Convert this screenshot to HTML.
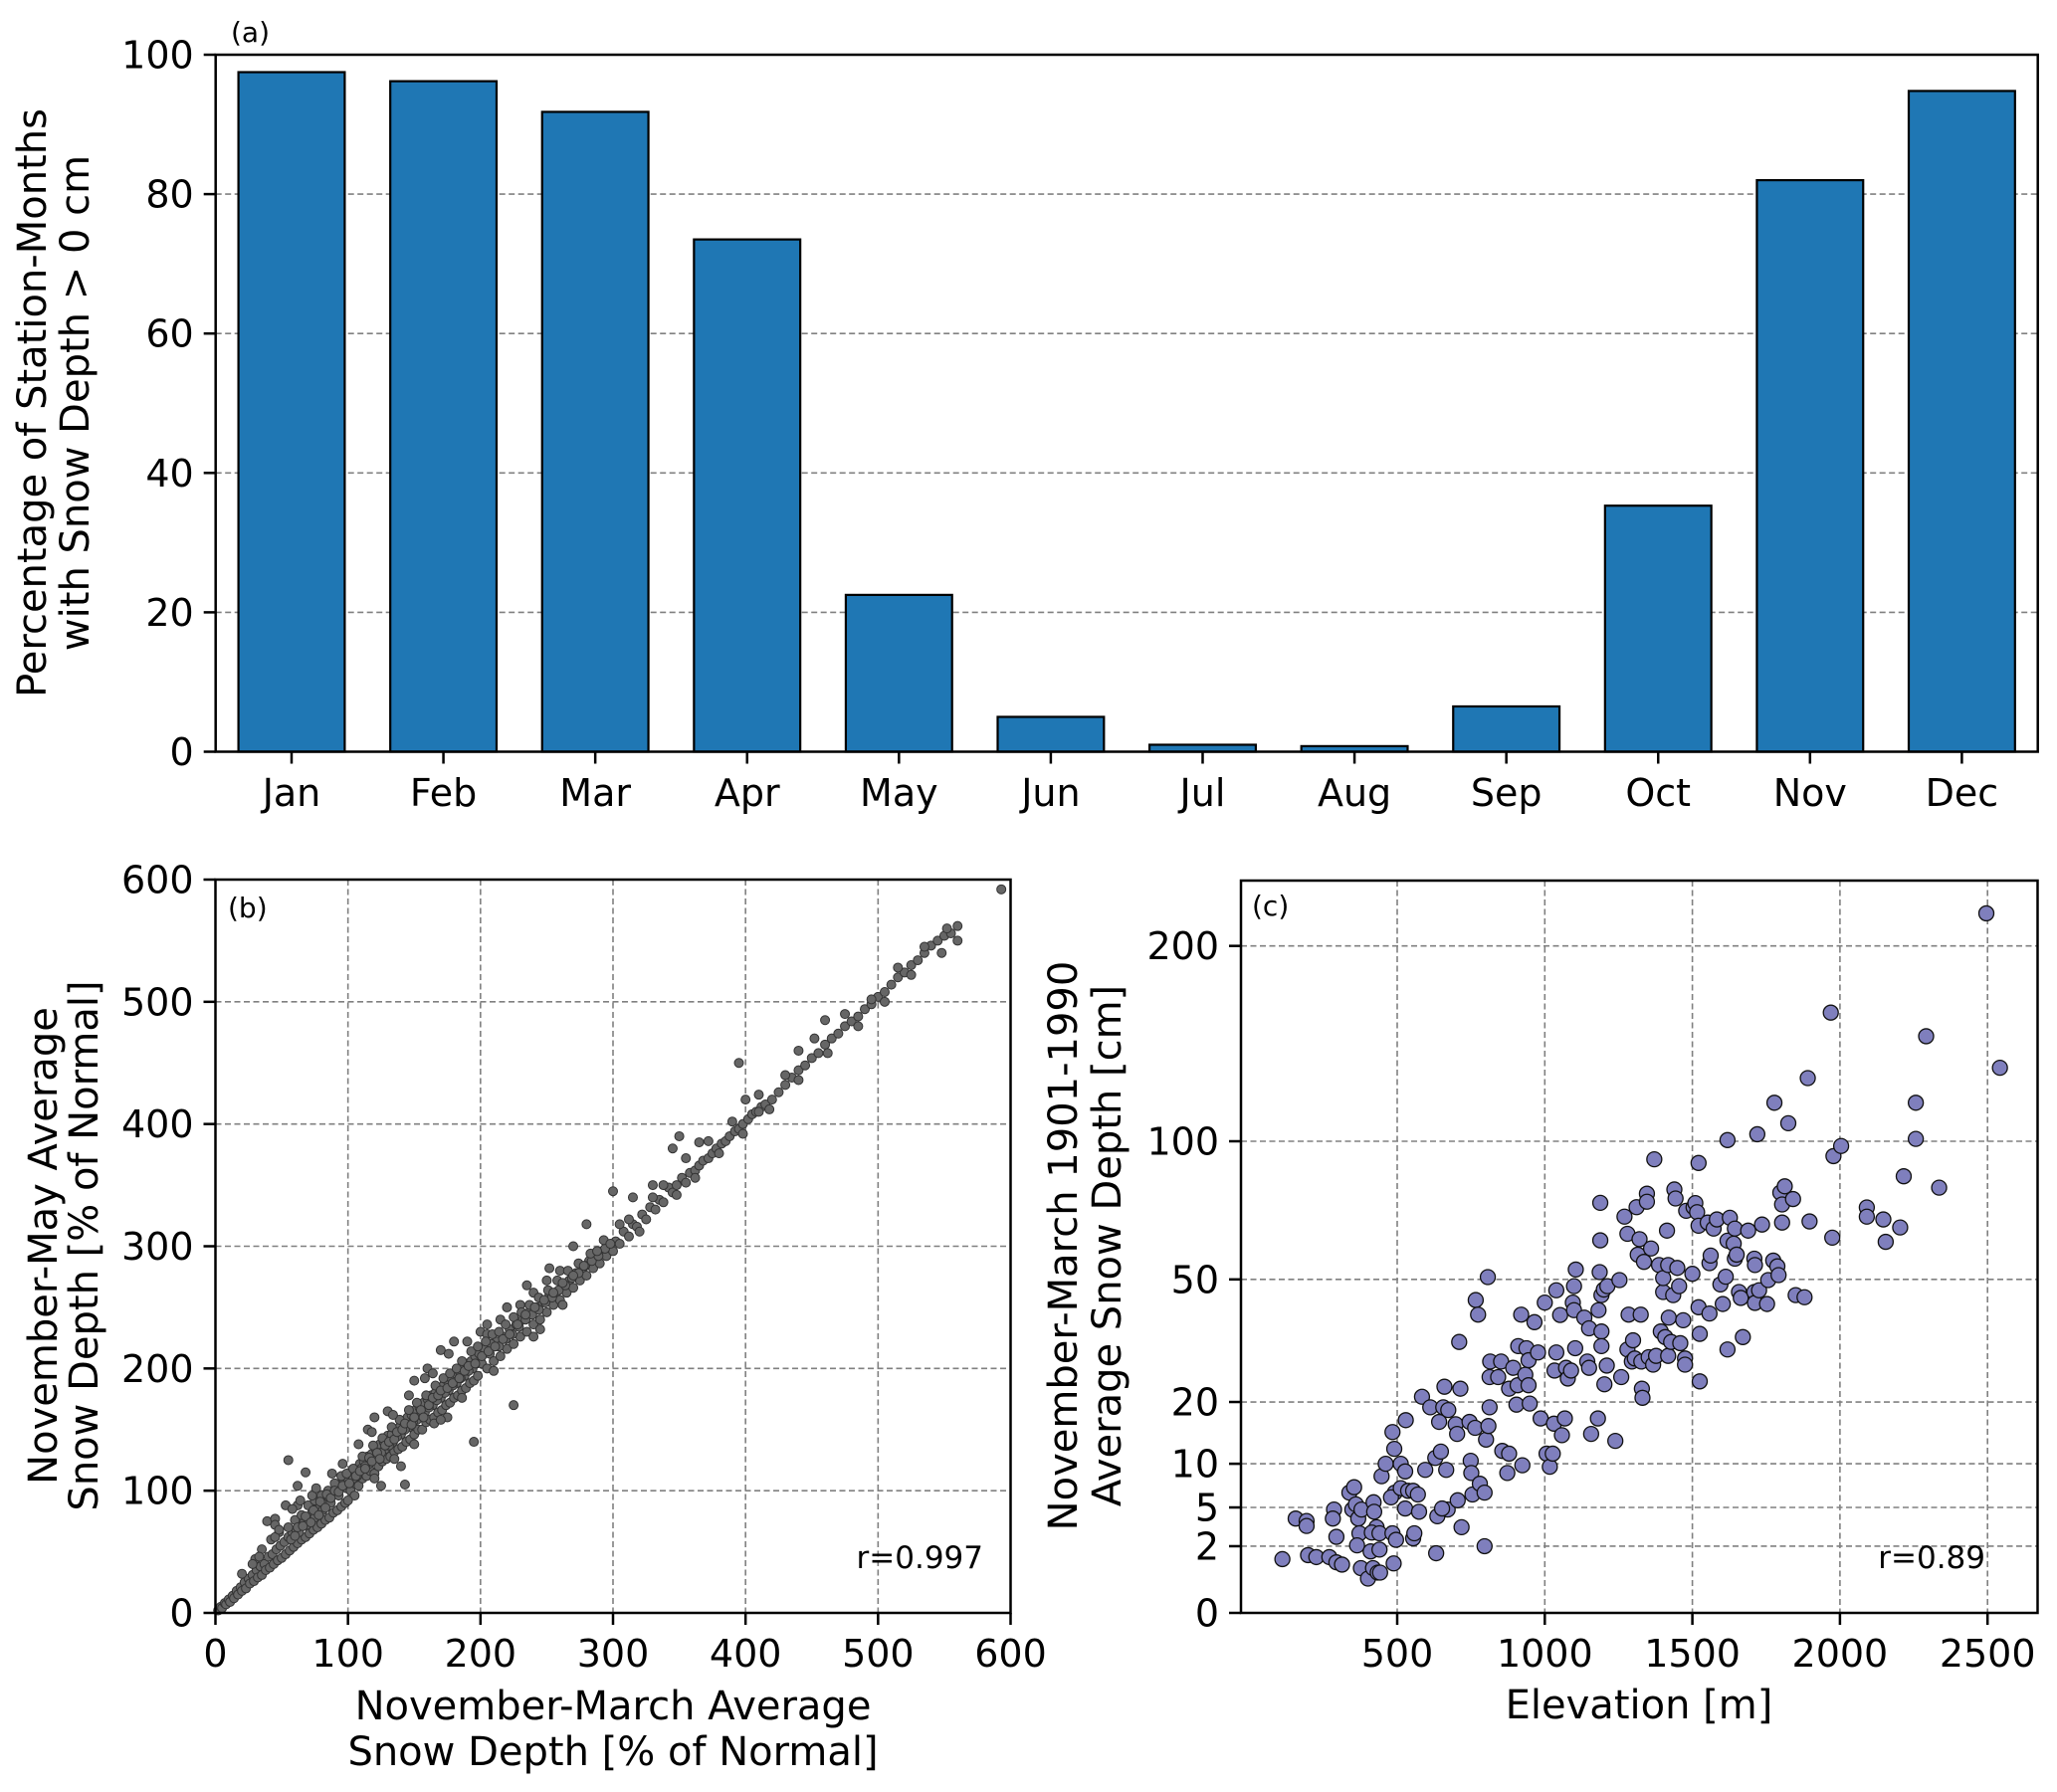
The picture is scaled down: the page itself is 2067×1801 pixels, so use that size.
<!DOCTYPE html>
<html><head><meta charset="utf-8">
<style>
html,body{margin:0;padding:0;background:#fff;}
svg{display:block;font-family:"DejaVu Sans","Liberation Sans",sans-serif;}
</style></head>
<body>
<svg id="fig" width="2067" height="1801" viewBox="0 0 2067 1801" xmlns="http://www.w3.org/2000/svg">
<rect x="0" y="0" width="2067" height="1801" fill="#fff"/>
<g id="pa"></g>
<g id="pb"></g>
<g id="pc"></g>
</svg>
<script>
// ---------- Panel (a) data ----------
const months = ["Jan","Feb","Mar","Apr","May","Jun","Jul","Aug","Sep","Oct","Nov","Dec"];
const pctValues = [97.5,96.2,91.8,73.5,22.5,5.0,1.0,0.8,6.5,35.3,82.0,94.8];
const aTicks = [0,20,40,60,80,100];
// ---------- Panel (b) data: [Nov-Mar, Nov-May] ----------
const bPoints = [
[2,2],[4,5],[5,4],[7,8],[8,7],[10,11],[11,9],[13,14],[14,12],[16,18],[17,15],[19,21],[20,18],[22,25],[23,20],[25,28],[26,24],[28,31],[29,26],[31,35],[32,29],[34,38],[35,31],[37,40],[38,35],[40,46],[41,37],[43,48],[44,40],[46,52],[47,43],[49,55],[50,45],[20,32],[30,44],[35,52],[42,60],[48,66],
[52,58],[53,48],[55,62],[56,51],[58,66],[59,54],[61,68],[62,57],[64,72],[65,60],[67,75],[68,62],[70,78],[71,65],[73,82],[74,68],[76,85],[77,70],[79,88],[80,73],[82,92],[83,76],[85,95],[86,78],[88,98],[89,82],[91,101],[92,84],[94,105],[95,87],[97,108],[98,90],[100,110],[55,70],[60,76],[65,80],[70,88],[75,92],[80,96],[85,100],[90,106],[95,112],[57,60],[63,66],[69,72],[75,78],[81,84],[87,90],[93,96],[99,102],[39,75],[45,77],[55,125],[68,115],[62,104],[53,88],[143,105],[62,88],[73,96],[28,40],[33,46],[45,62],
[102,100],[103,114],[105,106],[106,118],[108,104],[109,122],[111,110],[112,124],[114,112],[115,128],[117,116],[118,130],[120,114],[121,134],[123,120],[124,138],[126,124],[127,140],[129,126],[130,145],[132,128],[133,146],[135,132],[136,150],[138,134],[139,152],[141,136],[142,156],[144,140],[145,160],[147,142],[148,162],[150,146],[151,166],[153,150],[154,168],[156,150],[157,172],[159,156],[160,175],[162,158],[163,178],[165,160],[166,180],[168,164],[169,184],[171,166],[172,186],[174,170],[175,190],[177,172],[178,192],[180,176],[181,196],[183,178],[184,198],[186,182],[187,202],[189,184],[190,204],[192,188],[193,206],[195,190],[196,210],[198,194],[199,212],
[104,110],[110,118],[116,122],[122,128],[128,134],[134,140],[140,146],[146,152],[152,158],[158,164],[164,170],[170,176],[176,182],[182,188],[188,194],[194,200],[107,112],[113,120],[119,126],[125,131],[131,137],[137,144],[143,150],[149,156],[155,162],[161,168],[167,174],[173,180],[179,186],[185,192],[191,198],[197,204],
[120,160],[130,165],[150,190],[160,200],[170,215],[125,104],[140,120],[175,160],[195,140],[225,170],[115,150],[180,222],[200,230],[105,96],[135,126],[165,155],
[201,204],[203,216],[205,200],[207,212],[210,206],[212,222],[215,210],[217,226],[220,216],[222,232],[225,220],[227,236],[230,226],[232,240],[235,230],[237,246],[240,236],[242,250],[245,240],[247,254],[250,246],[252,260],[255,252],[257,262],[260,256],[262,268],[265,262],[267,272],[270,266],[272,278],[275,272],[277,282],[280,276],[282,288],[285,282],[287,292],[290,286],[292,296],[295,292],[297,300],[300,296],[208,220],[214,218],[219,224],[224,228],[229,234],[234,240],[239,244],[244,248],[249,254],[254,258],[259,264],[264,268],[269,274],[274,278],[279,284],[284,288],[289,292],[294,298],[230,252],[250,272],[240,262],[260,280],[245,232],[215,240],[205,228],
[302,304],[305,302],[308,312],[312,308],[315,318],[318,316],[322,326],[325,322],[328,332],[332,330],[335,338],[338,336],[342,348],[345,344],[348,350],[352,356],[355,352],[358,360],[362,362],[365,366],[368,370],[372,372],[375,376],[378,380],[382,384],[385,386],[388,390],[392,394],[395,396],[398,400],[402,404],[405,408],[408,410],[412,414],[415,416],[420,420],[425,426],[430,432],[435,438],[440,444],[445,448],[450,454],[455,458],[460,465],[465,470],[470,474],[475,480],[480,484],[485,488],[490,494],[495,498],[500,504],[505,508],[510,514],[515,520],[520,524],[525,530],[530,534],[535,540],[540,546],[545,550],[550,554],[555,556],[560,562],[593,592],[560,550],
[300,345],[315,340],[350,390],[395,450],[400,420],[345,380],[330,350],[410,410],[460,485],[440,460],[365,385],
[60,63],[62,70],[66,71],[68,79],[72,74],[74,84],[78,80],[79,91],[83,86],[84,97],[87,94],[90,100],[93,99],[96,104],[99,114],[101,106],[104,118],[106,112],[109,116],[111,128],[113,118],[116,127],[118,124],[119,137],[122,131],[124,126],[126,143],[128,137],[131,140],[133,152],[135,142],[137,148],[139,158],[141,150],[143,155],[146,166],[148,154],[150,160],[152,172],[155,166],[157,160],[159,178],[161,170],[164,176],[166,186],[168,178],[170,182],[172,192],[175,184],[177,196],[179,188],[182,200],[184,192],[186,206],[188,198],[191,202],[193,214],[196,204],[198,218],[201,210],[204,222],[206,214],[209,228],[211,218],[214,230],[217,224],[219,236],[222,228],[225,242],[228,236],[231,246],[234,244],[237,252],[241,250],[244,258],[248,256],[251,264],[255,262],[258,272],[262,270],[266,280],[270,276],[274,286],[278,284],[283,294],[288,296],[293,305],[298,302],
[45,72],[48,68],[58,85],[64,92],[76,102],[88,114],[96,122],[108,138],[118,148],[134,162],[146,178],[158,192],[164,196],[176,212],[190,222],[205,236],[220,250],[235,268],[252,282],[270,300],[280,318],[100,92],[120,110],[150,138],[170,158],[186,176],[210,198],[240,226],[262,252],
[305,318],[312,322],[320,312],[330,340],[338,350],[348,342],[355,372],[362,356],[372,386],[380,376],[390,402],[398,392],[410,424],[418,412],[430,440],[440,436],[452,470],[462,458],[475,490],[485,480],[495,502],[505,500],[515,528],[525,522],[535,545],[548,540],[552,560]
];
const bTicks = [0,100,200,300,400,500,600];
// ---------- Panel (c) data ----------
const elev = [111,156,193,193,198,226,270,286,282,294,294,313,338,348,360,354,368,379,372,364,377,401,410,420,422,430,414,440,418,434,440,442,447,461,484,490,492,479,484,488,496,512,527,512,537,527,529,554,558,554,570,574,584,595,612,629,636,632,648,642,656,660,673,666,671,652,698,705,703,710,714,718,745,749,751,755,764,766,774,780,796,801,796,807,809,813,813,815,842,852,856,879,873,879,893,910,920,908,904,924,938,934,945,945,949,965,977,986,1000,1006,1017,1027,1031,1033,1039,1039,1052,1058,1068,1072,1078,1089,1095,1099,1099,1105,1103,1134,1144,1150,1150,1157,1180,1182,1186,1188,1188,1192,1192,1192,1200,1210,1202,1212,1239,1253,1259,1270,1280,1280,1284,1295,1299,1305,1311,1315,1321,1325,1327,1329,1331,1336,1346,1346,1352,1360,1367,1371,1377,1387,1393,1401,1401,1408,1414,1418,1418,1420,1428,1439,1443,1435,1449,1455,1459,1469,1475,1479,1475,1500,1504,1510,1516,1521,1525,1521,1521,1525,1552,1558,1558,1562,1572,1583,1595,1603,1613,1619,1619,1619,1627,1640,1644,1644,1650,1658,1664,1671,1689,1710,1712,1710,1712,1720,1726,1736,1753,1757,1774,1778,1788,1792,1798,1804,1804,1813,1825,1841,1850,1880,1891,1897,1969,1978,1974,2004,2091,2091,2147,2155,2204,2216,2257,2257,2292,2336,2496,2542];
const depth = [1.3,4.0,3.8,3.4,1.5,1.4,1.4,4.8,4.0,2.6,1.15,1.05,6.5,4.8,5.3,7.1,4.0,4.8,2.85,2.05,0.9,0.53,1.7,5.5,4.6,3.3,2.9,2.85,0.9,0.73,1.8,0.73,8.4,10,14.7,12.1,6.5,6,2.85,1.1,2.4,10,9,7,6.7,4.9,16.7,2.5,2.85,6.7,6.3,4.6,21,9.2,19,10.8,4.2,1.6,11.7,16.4,19,23,18.5,9.2,4.8,4.9,16,5.7,14.4,33,22.6,3.3,16.4,10.4,8.8,6.3,15.4,44,40,7.5,6.5,13.5,2,50.7,15.7,19,25,28.4,25,28.4,11.8,11.4,8.8,22.6,27,32,40,23.3,19.5,9.8,31.5,25.5,28.7,23.3,19.7,38,30.5,17,43.3,11.4,9.6,11.4,16.1,26.4,30.5,46.8,39.9,14.2,17,27,24.7,26.4,43.3,48,41.2,53,31.5,39.2,28.4,36.4,27,14.4,17,41.2,52.2,62.4,75.6,45.4,35.6,32,47,27.5,23.5,48,13.3,49.8,25,70.6,64.6,31.2,40,28.4,33.4,29.1,74,57.7,62.8,40,28.4,22.6,20.8,55.4,79,76,29.4,59.7,27.7,92.5,29.7,54.4,35.6,46.3,50.4,34.2,65.7,54.4,29.7,39.2,33,80.6,77.2,45.4,53.5,48,32.7,38.5,29.1,72.7,27.7,51.7,74,75.5,72.2,91,24.1,42,67.4,35,68.5,40.3,55,57.4,66.4,69.6,48.5,42.9,50.8,62.3,100.5,31.2,70.2,61.3,66.4,56.4,57.7,46.3,44.6,34.2,65.7,56.4,54.4,46.3,43.2,103,46.8,67.8,42.9,49.8,55.8,117,54,51.3,79.4,75,68.5,81.8,107.8,77,45.4,44.8,128.6,68.9,162,93.8,63.3,98,73.9,70.6,69.6,61.9,66.8,85.7,117,101,149.5,81.3,220,133.6];
const cXTicks = [500,1000,1500,2000,2500];
const cYTicks = [0,2,5,10,20,50,100,200];

const NS = "http://www.w3.org/2000/svg";
function mk(parent, tag, attrs){ const e=document.createElementNS(NS,tag); for(const k in attrs) e.setAttribute(k,attrs[k]); parent.appendChild(e); return e; }
function txt(parent, s, attrs){ const e=mk(parent,"text",attrs); e.textContent=s; return e; }
const GRID = {stroke:"#808080","stroke-width":1.6,"stroke-dasharray":"6,3.5",fill:"none"};

// ===== Panel A =====
const pa = document.getElementById("pa");
const A = {l:216.7,r:2047.7,t:55,b:755.5};
const axY = v => A.b - (v/100)*(A.b-A.t);
const step = (A.r-A.l)/12;
const axX = i => A.l + step*(i+0.5);
aTicks.forEach(v=>{
  if(v>0 && v<100){ const g=mk(pa,"line",Object.assign({x1:A.l,x2:A.r,y1:axY(v),y2:axY(v)},GRID));
      }
});
months.forEach((m,i)=>{
  const h = A.b-axY(pctValues[i]);
  const r = mk(pa,"rect",{x:axX(i)-step*0.35,y:axY(pctValues[i]),width:step*0.7,height:h,fill:"#1f77b4",stroke:"#000","stroke-width":2.2});
  
  
  const t = mk(pa,"line",{x1:axX(i),x2:axX(i),y1:A.b,y2:A.b+12,stroke:"#000","stroke-width":2.5});
   
  const lb = txt(pa,m,{x:axX(i),y:810,"font-size":38,"text-anchor":"middle"});
   
});
aTicks.forEach(v=>{
  const t = mk(pa,"line",{x1:A.l-12,x2:A.l,y1:axY(v),y2:axY(v),stroke:"#000","stroke-width":2.5});
   
  const lb = txt(pa,String(v),{x:A.l-22,y:axY(v)+13.5,"font-size":38,"text-anchor":"end"});
   
});
const fa = mk(pa,"rect",{x:A.l,y:A.t,width:A.r-A.l,height:A.b-A.t,fill:"none",stroke:"#000","stroke-width":2.5});
 
const la = txt(pa,"(a)",{x:232,y:42,"font-size":28});
 
const ya = mk(pa,"text",{transform:"translate(0,405) rotate(-90)","font-size":40,"text-anchor":"middle"});
 
mk(ya,"tspan",{x:0,y:46}).textContent="Percentage of Station-Months";
mk(ya,"tspan",{x:0,y:89}).textContent="with Snow Depth > 0 cm";

// ===== Panel B =====
const pb = document.getElementById("pb");
const B = {l:216.5,r:1015.5,t:884,b:1621};
const bx = v => B.l + v/600*(B.r-B.l);
const by = v => B.b - v/600*(B.b-B.t);
bTicks.forEach(v=>{
  if(v>0 && v<600){
    const g1=mk(pb,"line",Object.assign({x1:bx(v),x2:bx(v),y1:B.t,y2:B.b},GRID));
     
    const g2=mk(pb,"line",Object.assign({x1:B.l,x2:B.r,y1:by(v),y2:by(v)},GRID));
     
  }
});
const bg = mk(pb,"g",{fill:"#666666",stroke:"#333333","stroke-width":1});
 
bPoints.forEach(p=>{
  const c = mk(bg,"circle",{cx:bx(p[0]),cy:by(p[1]),r:4.5});
   
});
bTicks.forEach(v=>{
  const t1=mk(pb,"line",{x1:bx(v),x2:bx(v),y1:B.b,y2:B.b+12,stroke:"#000","stroke-width":2.5});
   
  const l1=txt(pb,String(v),{x:bx(v),y:1675,"font-size":38,"text-anchor":"middle"});
   
  const t2=mk(pb,"line",{x1:B.l-12,x2:B.l,y1:by(v),y2:by(v),stroke:"#000","stroke-width":2.5});
   
  const l2=txt(pb,String(v),{x:B.l-22,y:by(v)+13.5,"font-size":38,"text-anchor":"end"});
   
});
const fb = mk(pb,"rect",{x:B.l,y:B.t,width:B.r-B.l,height:B.b-B.t,fill:"none",stroke:"#000","stroke-width":2.5});
 
const lbb = txt(pb,"(b)",{x:229,y:922,"font-size":28});
 
const rb = txt(pb,"r=0.997",{x:988,y:1576,"font-size":31,"text-anchor":"end"});
 
const xb = mk(pb,"text",{"font-size":40,"text-anchor":"middle"});
 
mk(xb,"tspan",{x:616,y:1728}).textContent="November-March Average";
mk(xb,"tspan",{x:616,y:1774}).textContent="Snow Depth [% of Normal]";
const yb = mk(pb,"text",{transform:"translate(0,1252) rotate(-90)","font-size":40,"text-anchor":"middle"});
 
mk(yb,"tspan",{x:0,y:57}).textContent="November-May Average";
mk(yb,"tspan",{x:0,y:98}).textContent="Snow Depth [% of Normal]";

// ===== Panel C =====
const pc = document.getElementById("pc");
const C = {l:1247,r:2047.5,t:885,b:1621};
const cx = v => 1255.7 + v*0.2966;
const cy = v => C.b - Math.sqrt(v)*47.4;
cXTicks.forEach(v=>{
  const g=mk(pc,"line",Object.assign({x1:cx(v),x2:cx(v),y1:C.t,y2:C.b},GRID));
   
});
cYTicks.forEach(v=>{
  if(v>0){ const g=mk(pc,"line",Object.assign({x1:C.l,x2:C.r,y1:cy(v),y2:cy(v)},GRID));
    }
});
const cg = mk(pc,"g",{fill:"#7f7fbd",stroke:"#111","stroke-width":1.3});
 
elev.forEach((e,i)=>{
  const c = mk(cg,"circle",{cx:cx(e),cy:cy(depth[i]),r:7.5});
   
});
cXTicks.forEach(v=>{
  const t=mk(pc,"line",{x1:cx(v),x2:cx(v),y1:C.b,y2:C.b+12,stroke:"#000","stroke-width":2.5});
   
  const l=txt(pc,String(v),{x:cx(v),y:1675,"font-size":38,"text-anchor":"middle"});
   
});
cYTicks.forEach(v=>{
  const t=mk(pc,"line",{x1:C.l-12,x2:C.l,y1:cy(v),y2:cy(v),stroke:"#000","stroke-width":2.5});
   
  const l=txt(pc,String(v),{x:C.l-22,y:cy(v)+13.5,"font-size":38,"text-anchor":"end"});
   
});
const fc = mk(pc,"rect",{x:C.l,y:C.t,width:C.r-C.l,height:C.b-C.t,fill:"none",stroke:"#000","stroke-width":2.5});
 
const lc = txt(pc,"(c)",{x:1258,y:920,"font-size":28});
 
const rc = txt(pc,"r=0.89",{x:1995,y:1576,"font-size":31,"text-anchor":"end"});
 
const xc = txt(pc,"Elevation [m]",{x:1647,y:1727,"font-size":40,"text-anchor":"middle"});
 
const yc = mk(pc,"text",{transform:"translate(0,1252) rotate(-90)","font-size":40,"text-anchor":"middle"});
 
mk(yc,"tspan",{x:0,y:1082}).textContent="November-March 1901-1990";
mk(yc,"tspan",{x:0,y:1126}).textContent="Average Snow Depth [cm]";
</script>
</body></html>
